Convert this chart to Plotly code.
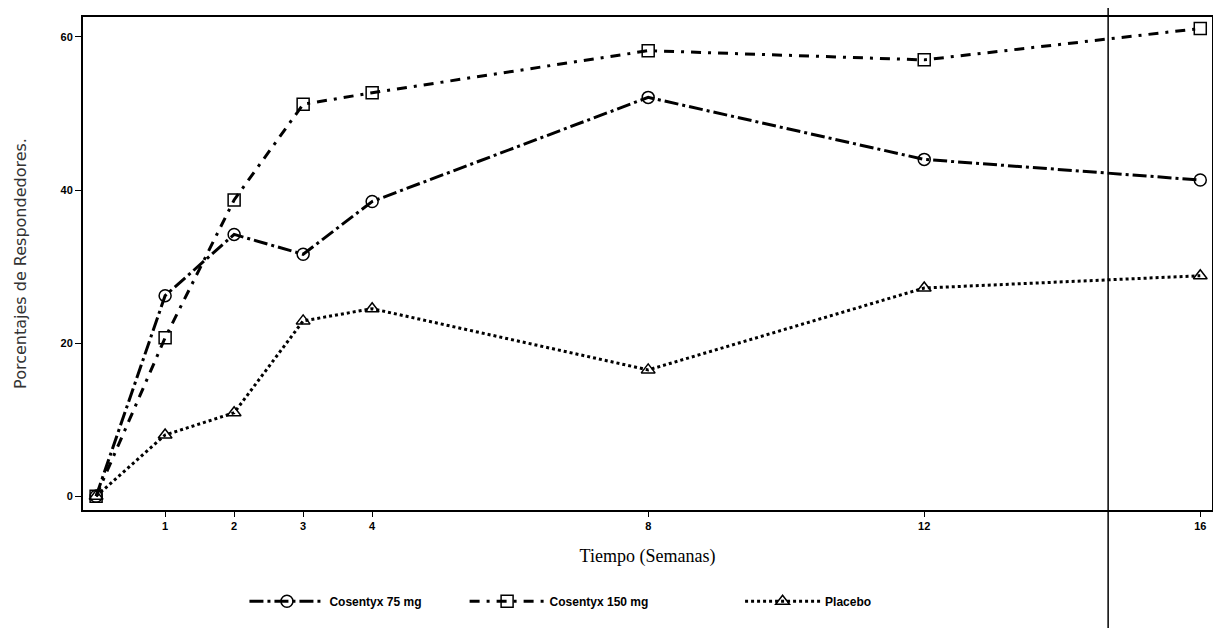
import plotly.graph_objects as go

weeks = [0, 1, 2, 3, 4, 8, 12, 16]
cosentyx_75 = [0, 26.2, 34.2, 31.6, 38.5, 52.1, 44.0, 41.3]
cosentyx_150 = [0, 20.7, 38.7, 51.2, 52.7, 58.2, 57.0, 61.1]
placebo = [0, 8.0, 10.9, 22.9, 24.5, 16.5, 27.2, 28.8]

series_names = ["Cosentyx 75 mg", "Cosentyx 150 mg", "Placebo"]
x_tick_vals = [1, 2, 3, 4, 8, 12, 16]
x_tick_text = ["1", "2", "3", "4", "8", "12", "16"]
y_tick_vals = [0, 20, 40, 60]

fig = go.Figure()
styles = [
    (cosentyx_75, "circle-open", "14px,4px,3px,4px", "legend", 0.143),
    (cosentyx_150, "square-open", "10px,7px,3px,7px", "legend2", 0.338),
    (placebo, "triangle-up-open", "3px,3px", "legend3", 0.582),
]
legend_font = dict(size=12, family="Liberation Sans Narrow, Liberation Sans, Arial", weight="bold", color="black")
legends = {}
for name, (vals, sym, dash, lg, lx) in zip(series_names, styles):
    fig.add_trace(go.Scatter(
        x=weeks, y=vals, name=name, mode="lines+markers", legend=lg,
        line=dict(color="black", width=3, dash=dash),
        marker=dict(symbol=sym, size=12, color="black", line=dict(width=1.5, color="black")),
    ))
    legends[lg] = dict(orientation="h", x=lx, xanchor="left", y=-0.185, yanchor="middle",
                       font=legend_font, itemwidth=75, bgcolor="rgba(0,0,0,0)")

fig.update_layout(
    width=1213, height=620,
    paper_bgcolor="white", plot_bgcolor="white",
    margin=dict(l=75, r=9, t=7, b=118),
    font=dict(family="Liberation Sans Narrow, Liberation Sans, Arial", color="black"),
    showlegend=True,
    xaxis=dict(
        range=[-0.19, 16.17], tickmode="array", tickvals=x_tick_vals, ticktext=x_tick_text,
        ticks="outside", ticklen=5, tickcolor="black", showgrid=False, zeroline=False,
        showline=True, linecolor="black", linewidth=2, mirror=True,
        tickfont=dict(size=11, weight="bold"),
        title=dict(text="Tiempo (Semanas)", standoff=18,
                   font=dict(family="Liberation Serif, Times New Roman", size=18, color="black")),
    ),
    yaxis=dict(
        range=[-1.8, 62.6], tickmode="array", tickvals=y_tick_vals,
        ticks="outside", ticklen=6, tickcolor="black", showgrid=False, zeroline=False,
        showline=True, linecolor="black", linewidth=2, mirror=True,
        tickfont=dict(size=11, weight="bold"),
        title=dict(text="Porcentajes de Respondedores.", standoff=30,
                   font=dict(family="DejaVu Sans, Noto Sans", size=16, color="#333")),
    ),
    shapes=[dict(type="line", xref="paper", yref="paper", x0=0.908, x1=0.908,
                 y0=-0.3, y1=1.05, line=dict(color="black", width=1.5))],
    **legends,
)

fig.write_html("out.html")
